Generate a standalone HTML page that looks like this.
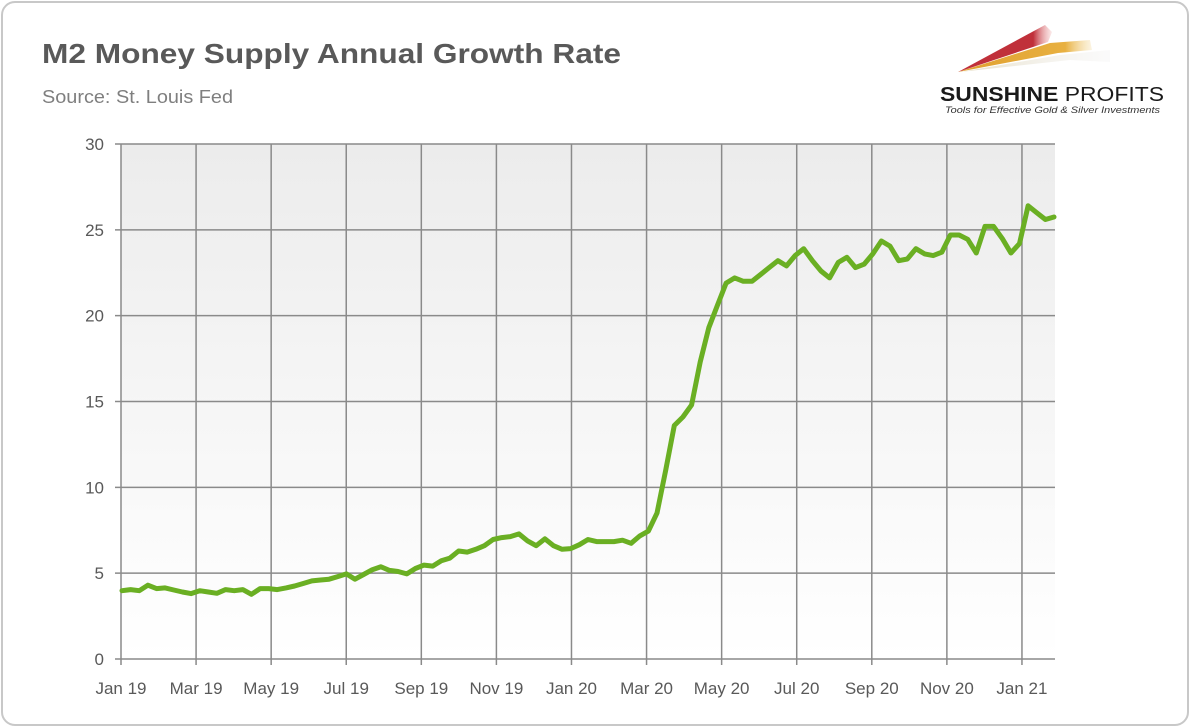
<!DOCTYPE html>
<html><head><meta charset="utf-8"><style>
body{margin:0;background:#fff;font-family:"Liberation Sans",sans-serif;}
#card{position:absolute;left:1px;top:1px;width:1184px;height:721px;border:2px solid #c8c8c8;border-radius:14px;background:#fff;}
</style></head><body>
<div id="card"></div>
<svg id="svg" width="1190" height="726" style="position:absolute;left:0;top:0">
<defs><linearGradient id="bg" x1="0" y1="0" x2="0" y2="1"><stop offset="0" stop-color="#ececec"/><stop offset="1" stop-color="#ffffff"/></linearGradient>
<linearGradient id="r1" x1="0" x2="1"><stop offset="0" stop-color="#c0303a"/><stop offset="0.8" stop-color="#c0303a"/><stop offset="1" stop-color="#f2b8b8" stop-opacity="0.3"/></linearGradient>
<linearGradient id="r2" x1="0" x2="1"><stop offset="0" stop-color="#e0a030"/><stop offset="0.8" stop-color="#e8b040"/><stop offset="1" stop-color="#f5dca0" stop-opacity="0.3"/></linearGradient>
<linearGradient id="r3" x1="0" x2="1"><stop offset="0" stop-color="#e8e0c8"/><stop offset="1" stop-color="#f0f0f0" stop-opacity="0.3"/></linearGradient></defs>
<text x="42" y="63" font-size="28" font-weight="bold" fill="#595959" textLength="579" lengthAdjust="spacingAndGlyphs">M2 Money Supply Annual Growth Rate</text>
<text x="42" y="103" font-size="18" fill="#7f7f7f" textLength="191" lengthAdjust="spacingAndGlyphs">Source: St. Louis Fed</text>
<g>
<polygon points="958,72 1045,25 1052,32 1048,42" fill="url(#r1)"/>
<polygon points="958,72 1050,43 1090,40 1092,50 1058,53" fill="url(#r2)"/>
<polygon points="960,72 1060,55 1110,50 1110,62 1070,60" fill="url(#r3)"/>
<text x="940" y="101" font-size="20" fill="#1a1a1a" textLength="224" lengthAdjust="spacingAndGlyphs"><tspan font-weight="bold">SUNSHINE</tspan> PROFITS</text>
<text x="945" y="113" font-size="9.5" font-style="italic" fill="#333" textLength="215" lengthAdjust="spacingAndGlyphs">Tools for Effective Gold &amp; Silver Investments</text>
</g>
<rect x="121" y="144" width="934" height="515" fill="url(#bg)"/>
<g id="grid"></g><g id="labels"></g>
</svg>
<script>
const values=[3.98,4.04,3.98,4.30,4.10,4.14,4.02,3.90,3.81,3.98,3.90,3.83,4.04,3.98,4.04,3.77,4.10,4.10,4.04,4.14,
4.25,4.4,4.55,4.6,4.65,4.8,4.96,4.65,4.92,5.2,5.37,5.16,5.1,4.96,5.27,5.47,5.41,5.72,5.88,6.29,6.23,6.39,6.6,6.96,7.07,7.13,7.29,6.88,6.6,7.0,6.6,6.39,6.43,6.66,6.96,6.84,6.84,6.84,6.92,6.74,7.17,7.45,
8.5,11.0,13.6,14.1,14.8,17.3,19.3,20.6,21.9,22.2,22.0,22.0,22.4,22.8,23.2,22.9,23.5,23.9,23.2,22.6,22.2,23.1,23.4,22.8,23.0,23.6,24.35,24.05,23.2,23.3,23.9,23.6,23.5,23.7,24.7,24.7,24.45,23.65,25.2,25.2,24.5,23.65,24.2,26.4,26.0,25.6,25.75];
const yTicks=[0,5,10,15,20,25,30];
const xTickLabels=["Jan 19","Mar 19","May 19","Jul 19","Sep 19","Nov 19","Jan 20","Mar 20","May 20","Jul 20","Sep 20","Nov 20","Jan 21"];
const NS="http://www.w3.org/2000/svg";
const X0=121,X1=1055,Y0=659,Y1=144;
const y=v=>Y0-(v/30)*(Y0-Y1);
const xi=i=>122+i*(932/(values.length-1));
const xm=k=>121+k*75.08;
const g=document.getElementById('grid'),lb=document.getElementById('labels'),svg=document.getElementById('svg');
function mk(t,a,p){const e=document.createElementNS(NS,t);for(const k in a)e.setAttribute(k,a[k]);p.appendChild(e);return e;}
yTicks.forEach(v=>{
 const l=mk('line',{x1:X0-6,x2:X1,y1:y(v),y2:y(v),stroke:'#8a8a8a','stroke-width':1.5},g);
 
 
 const t=mk('text',{x:104,y:y(v)+6,'text-anchor':'end','font-size':17,fill:'#595959'},lb);
 t.textContent=v;
 
 
});
xTickLabels.forEach((s,k)=>{
 const l=mk('line',{x1:xm(k),x2:xm(k),y1:Y1,y2:Y0+6,stroke:'#8a8a8a','stroke-width':1.5},g);
 
 
 const t=mk('text',{x:xm(k),y:694,'text-anchor':'middle','font-size':17,fill:'#595959'},lb);
 t.textContent=s;
 
 
});
const p=mk('polyline',{points:values.map((v,i)=>xi(i).toFixed(1)+','+y(v).toFixed(1)).join(' '),fill:'none',stroke:'#6aaf23','stroke-width':5,'stroke-linejoin':'round','stroke-linecap':'round'},svg);


</script>
</body></html>
